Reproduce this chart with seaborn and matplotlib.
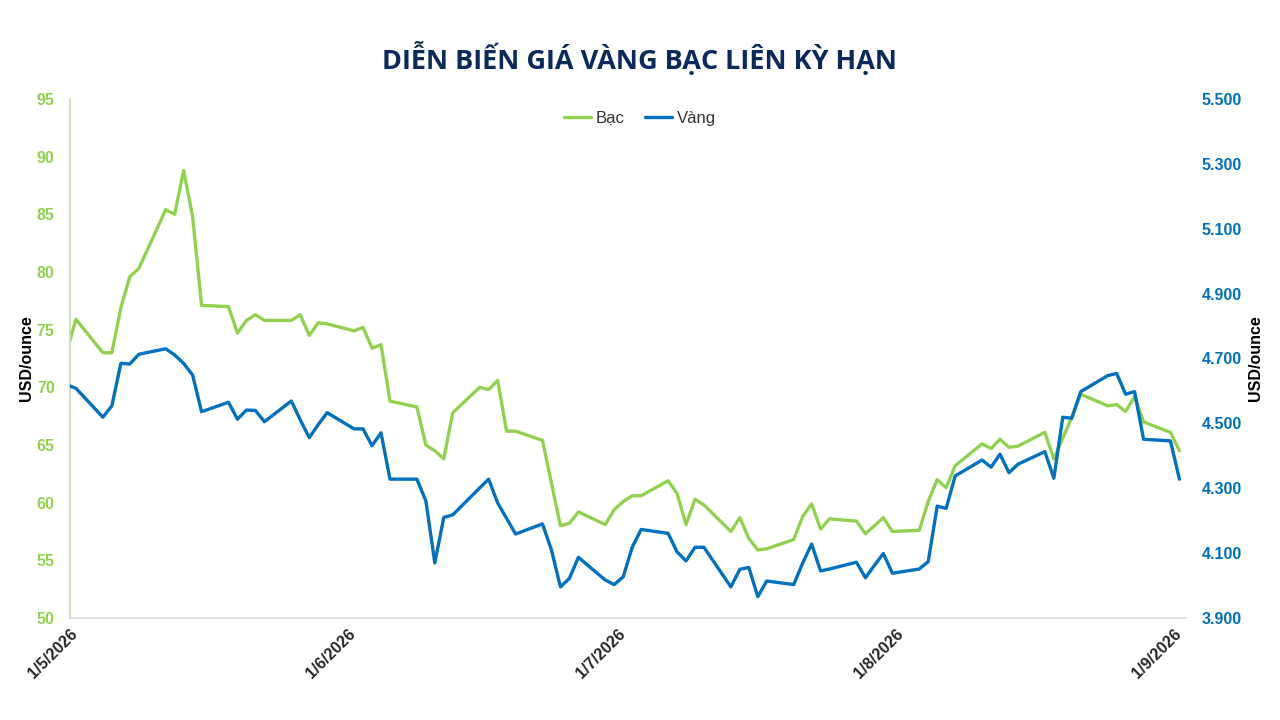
import pandas as pd
import seaborn as sns
import matplotlib.pyplot as plt
from matplotlib.ticker import FuncFormatter, MultipleLocator

# ---- data (one value per trading day) ----
ngay = pd.bdate_range("2026-04-30", "2026-09-01")

bac_t4 = [73.2]
bac_t5 = [75.9, 73.0, 73.0, 76.9, 79.6, 80.3, 85.4, 85.0, 88.8, 84.8, 77.1,
          77.0, 74.7, 75.8, 76.3, 75.8, 75.8, 76.3, 74.5, 75.6, 75.5]
bac_t6 = [74.9, 75.2, 73.4, 73.7, 68.8, 68.3, 65.0, 64.5, 63.8, 67.8, 70.0,
          69.8, 70.6, 66.2, 66.2, 65.4, 61.7, 58.0, 58.2, 59.2, 58.1, 59.4]
bac_t7 = [60.1, 60.6, 60.6, 61.9, 60.8, 58.1, 60.3, 59.8, 57.5, 58.7, 56.9,
          55.9, 56.0, 56.8, 58.8, 59.9, 57.7, 58.6, 58.4, 57.3, 58.0, 58.7, 57.5]
bac_t8 = [57.6, 60.1, 62.0, 61.3, 63.2, 65.1, 64.7, 65.5, 64.8, 64.9, 66.1,
          63.8, 65.6, 67.4, 69.4, 68.4, 68.5, 67.9, 69.2, 67.0, 66.1]
bac_t9 = [64.5]

vang_t4 = [4619]
vang_t5 = [4608, 4519, 4554, 4685, 4683, 4713, 4730, 4711, 4685, 4649, 4536,
           4565, 4513, 4541, 4540, 4505, 4569, 4511, 4456, 4496, 4533]
vang_t6 = [4483, 4483, 4431, 4471, 4328, 4328, 4261, 4070, 4210, 4218, 4301,
           4328, 4255, 4207, 4159, 4190, 4110, 3996, 4022, 4087, 4017, 4003]
vang_t7 = [4027, 4118, 4173, 4161, 4104, 4076, 4118, 4118, 3996, 4050, 4056,
           3966, 4014, 4003, 4069, 4128, 4045, 4051, 4072, 4024, 4062, 4099, 4038]
vang_t8 = [4051, 4074, 4245, 4238, 4338, 4387, 4365, 4405, 4348, 4374, 4413,
           4331, 4519, 4516, 4598, 4647, 4654, 4590, 4598, 4451, 4446]
vang_t9 = [4328]

moc_ngay = ["2026-05-01", "2026-06-01", "2026-07-01", "2026-08-01", "2026-09-01"]
nhan_ngay = ["1/5/2026", "1/6/2026", "1/7/2026", "1/8/2026", "1/9/2026"]
moc_vang = [3900, 4100, 4300, 4500, 4700, 4900, 5100, 5300, 5500]

bac = bac_t4 + bac_t5 + bac_t6 + bac_t7 + bac_t8 + bac_t9
vang = vang_t4 + vang_t5 + vang_t6 + vang_t7 + vang_t8 + vang_t9

XANH_LA = "#92D050"
XANH_DUONG = "#0070C0"

# excel draws each day a bit inside its slot
lech = pd.Timedelta(hours=16)
df = pd.DataFrame({"ngay": ngay + lech, "bac": bac, "vang": vang})

sns.set_theme(style="white")
plt.rcParams["font.family"] = ["Liberation Sans", "DejaVu Sans"]

fig, ax = plt.subplots(figsize=(12.8, 7.2), dpi=100)
fig.subplots_adjust(left=70 / 1280, right=1186 / 1280, bottom=102 / 720, top=621 / 720)
ax2 = ax.twinx()

sns.lineplot(data=df, x="ngay", y="bac", ax=ax, color=XANH_LA, linewidth=2.4, label="Bạc")
sns.lineplot(data=df, x="ngay", y="vang", ax=ax2, color=XANH_DUONG, linewidth=2.4, label="Vàng")

x0 = pd.Timestamp("2026-05-01")
ax.set_xlim(x0, x0 + pd.Timedelta(days=124.4))
ax.set_ylim(50, 95)
ax.yaxis.set_major_locator(MultipleLocator(5))
ax2.set_ylim(3900, 5500)
ax2.set_yticks(moc_vang)
ax2.yaxis.set_major_formatter(FuncFormatter(lambda v, p: f"{v:,.0f}".replace(",", ".")))

ax.set_xticks(pd.to_datetime(moc_ngay))
ax.set_xticklabels(nhan_ngay, rotation=45, ha="right", va="top",
                   rotation_mode="anchor", fontweight="bold", fontsize=11.5)
ax.tick_params(axis="x", length=0, pad=6)
ax.tick_params(axis="y", length=0, pad=11, labelcolor=XANH_LA, labelsize=11.5)
ax2.tick_params(axis="y", length=0, pad=11, labelcolor=XANH_DUONG, labelsize=11.5)
for t in ax.get_yticklabels() + ax2.get_yticklabels():
    t.set_fontweight("bold")

ax.set_xlabel("")
ax.set_ylabel("USD/ounce", fontweight="bold", fontsize=11.5, color="black")
ax2.set_ylabel("USD/ounce", fontweight="bold", fontsize=11.5, color="black")
ax.yaxis.set_label_coords(-0.032, 0.5)
ax2.yaxis.set_label_coords(1.0556, 0.5)

for s in ["top", "right"]:
    ax.spines[s].set_visible(False)
for s in ax2.spines.values():
    s.set_visible(False)
ax.spines["left"].set_color("#C9DBB5")
ax.spines["bottom"].set_color("#D9D9D9")
ax.grid(False)
ax2.grid(False)

# one legend for both axes
h1, l1 = ax.get_legend_handles_labels()
h2, l2 = ax2.get_legend_handles_labels()
ax.get_legend().remove()
ax2.get_legend().remove()
ax2.legend(h1 + h2, l1 + l2, loc="center", bbox_to_anchor=(0.5, 0.836),
           bbox_transform=fig.transFigure, ncol=2, frameon=False, fontsize=12,
           handlelength=1.6, handletextpad=0.3, columnspacing=1.2, labelcolor="#333333")

fig.text(0.5, 0.919, "DIỄN BIẾN GIÁ VÀNG BẠC LIÊN KỲ HẠN", ha="center", va="center",
         fontsize=19.5, fontweight="bold", color="#0B2A5B", family=["Open Sans", "DejaVu Sans"])

fig.savefig("out.png", dpi=100)
